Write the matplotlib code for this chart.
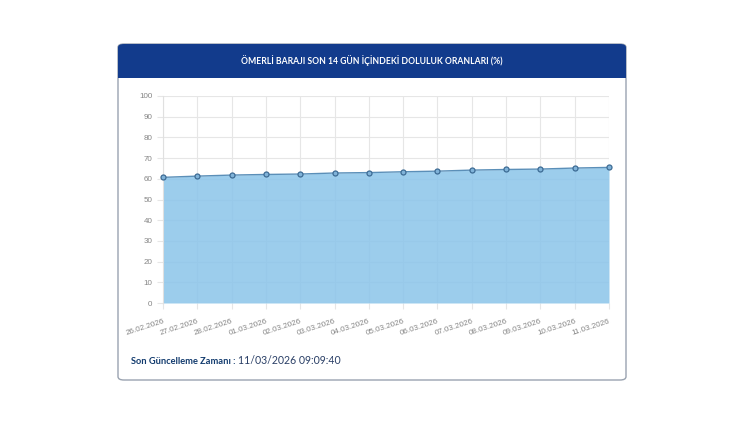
import matplotlib
matplotlib.use("Agg")
import matplotlib.pyplot as plt
from matplotlib.patches import FancyBboxPatch, Rectangle

# Ömerli dam fill ratios, last 14 days (%)
dates = ["26.02.2026", "27.02.2026", "28.02.2026", "01.03.2026", "02.03.2026",
         "03.03.2026", "04.03.2026", "05.03.2026", "06.03.2026", "07.03.2026",
         "08.03.2026", "09.03.2026", "10.03.2026", "11.03.2026"]
ratios = [60.7, 61.3, 61.8, 62.1, 62.3, 62.8, 63.0, 63.4, 63.7, 64.2,
          64.5, 64.7, 65.2, 65.5]
y_ticks = list(range(0, 101, 10))

title = "ÖMERLİ BARAJI SON 14 GÜN İÇİNDEKİ DOLULUK ORANLARI (%)"
update_label = "Son Güncelleme Zamanı :"
update_time = "11/03/2026 09:09:40"

W, H = 750, 421
fig = plt.figure(figsize=(W / 100, H / 100), dpi=100)
fig.patch.set_facecolor("white")


def fx(px):
    return px / W


def fy(py):
    return 1 - py / H


# card
card = FancyBboxPatch((fx(118), fy(380)), fx(626) - fx(118), fy(44) - fy(380),
                      boxstyle="round,pad=0,rounding_size=0.008",
                      transform=fig.transFigure, facecolor="white",
                      edgecolor="#9aa3b0", linewidth=1.0, zorder=-2)
fig.patches.append(card)
header = FancyBboxPatch((fx(118), fy(78)), fx(626) - fx(118), fy(44) - fy(78),
                        boxstyle="round,pad=0,rounding_size=0.008",
                        transform=fig.transFigure, facecolor="#123b8c",
                        edgecolor="none", zorder=-1)
fig.patches.append(header)
fig.patches.append(Rectangle((fx(118), fy(78)), fx(626) - fx(118), fy(66) - fy(78),
                             transform=fig.transFigure, facecolor="#123b8c",
                             edgecolor="none", zorder=-1))
fig.text(fx(372), fy(61), title, color="white", fontsize=6.2, fontweight="bold",
         family="Lato", ha="center", va="center")

ax = fig.add_axes([fx(163), fy(303), fx(609) - fx(163), fy(96) - fy(303)])
ax.patch.set_alpha(0)
x = range(len(dates))
ax.fill_between(x, ratios, 0, color="#8ec6ea", alpha=0.88, linewidth=0, zorder=2)
ax.plot(x, ratios, color="#5b8fb8", linewidth=1.0, zorder=3)
ax.plot(x, ratios, "o", markersize=3.6, markerfacecolor="#80b3d9",
        markeredgecolor="#3d6b94", markeredgewidth=0.9, zorder=4, clip_on=False)

ax.set_xlim(0, len(dates) - 1)
ax.set_ylim(0, 100)
ax.set_yticks(y_ticks)
ax.set_xticks(list(x))
ax.set_xticklabels(dates, rotation=18, ha="right", rotation_mode="anchor")
ax.grid(True, color="#e6e6e6", linewidth=0.8, zorder=1)
ax.set_axisbelow(True)
for s in ["top", "right", "bottom"]:
    ax.spines[s].set_visible(False)
ax.spines["left"].set_color("#e0e0e0")
ax.tick_params(axis="both", labelsize=5.8, labelcolor="#858585", color="#e6e6e6",
               length=4, width=0.8)
ax.tick_params(axis="x", pad=7)
for t in ax.get_xticklabels() + ax.get_yticklabels():
    t.set_family("Liberation Sans")

lbl = fig.text(fx(131), fy(361), update_label, color="#123b6e", fontsize=6.7,
               fontweight="bold", family="Lato", ha="left", va="center")
fig.canvas.draw()
bb = lbl.get_window_extent()
fig.text(bb.x1 / W + fx(2), fy(361), update_time, color="#2a3f66", fontsize=7.6,
         family="Lato", ha="left", va="center")

fig.savefig("out.png", dpi=100)
